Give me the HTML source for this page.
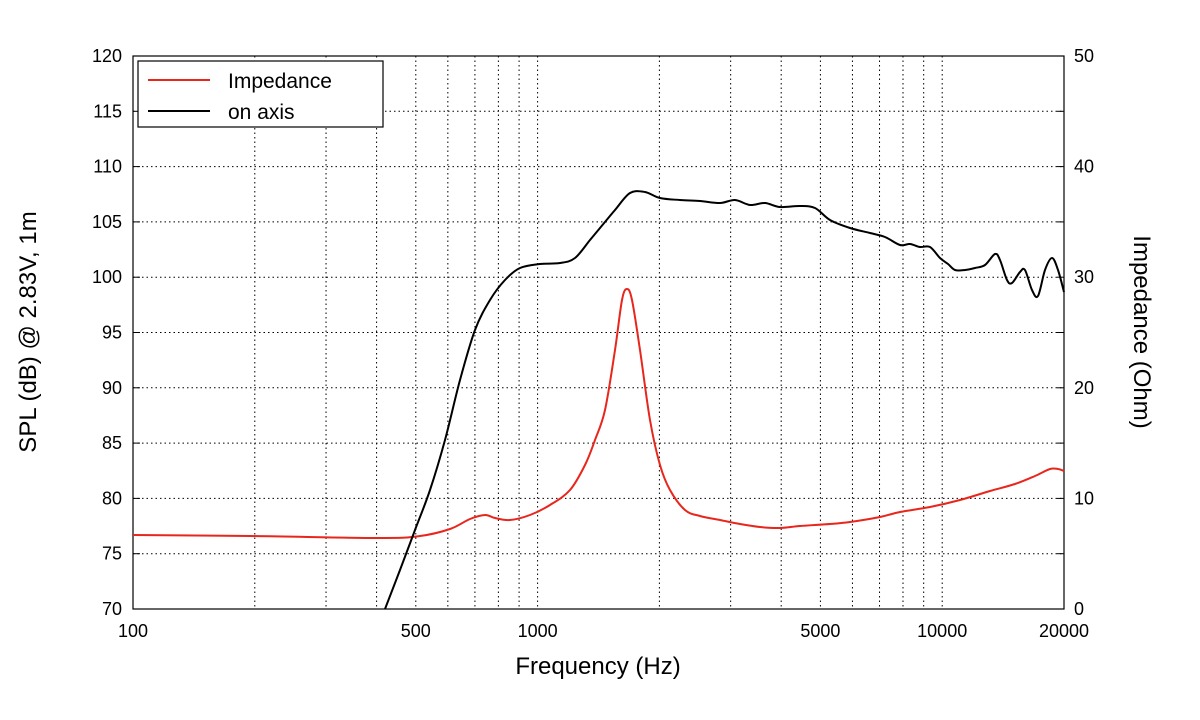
<!DOCTYPE html>
<html><head><meta charset="utf-8"><style>
body{margin:0;background:#fff;}
svg{display:block;font-family:"Liberation Sans",Arial,sans-serif;}
</style></head><body>
<svg id="s" width="1200" height="720" viewBox="0 0 1200 720" xmlns="http://www.w3.org/2000/svg">
<g id="grid"></g>
<rect x="133" y="56" width="931" height="553" fill="none" stroke="#000" stroke-width="1.2"/>
<g id="lab" font-size="18" fill="#000"></g>
<text x="598" y="674" font-size="24" text-anchor="middle">Frequency (Hz)</text>
<text transform="translate(36,332) rotate(-90)" font-size="24" text-anchor="middle">SPL (dB) @ 2.83V, 1m</text>
<text transform="translate(1134,332) rotate(90)" font-size="24" text-anchor="middle">Impedance (Ohm)</text>
<path id="red" fill="none" stroke="#e8261c" stroke-width="2"/>
<path id="blk" fill="none" stroke="#000" stroke-width="2"/>
<rect x="138" y="61" width="245" height="66" fill="#fff" stroke="#000" stroke-width="1.2"/>
<line x1="148" y1="80" x2="210" y2="80" stroke="#e8261c" stroke-width="2"/>
<line x1="148" y1="111" x2="210" y2="111" stroke="#000" stroke-width="2"/>
<text x="228" y="88" font-size="21">Impedance</text>
<text x="228" y="119" font-size="21">on axis</text>
</svg>
<script>
var ns="http://www.w3.org/2000/svg",g=document.getElementById('grid'),lab=document.getElementById('lab');
function X(f){return 133+404.6*Math.log10(f/100);}
function el(p,t,a,txt){var e=document.createElementNS(ns,t);for(var k in a)e.setAttribute(k,a[k]);if(txt)e.textContent=txt;p.appendChild(e);return e;}
var fs=[200,300,400,500,600,700,800,900,1000,2000,3000,4000,5000,6000,7000,8000,9000,10000];
fs.forEach(function(f){var x=X(f);el(g,'line',{x1:x,x2:x,y1:56,y2:609,stroke:'#000','stroke-width':1,'stroke-dasharray':'1.5,3'});});
for(var i=0;i<=10;i++){var y=56+i*55.3;el(g,'line',{x1:133,x2:1064,y1:y,y2:y,stroke:'#000','stroke-width':1,'stroke-dasharray':'1.5,3'});
el(lab,'text',{x:122,y:y+6,'text-anchor':'end'},String(120-5*i));
el(g,'line',{x1:133,x2:140,y1:y,y2:y,stroke:'#000'});el(g,'line',{x1:1057,x2:1064,y1:y,y2:y,stroke:'#000'});
if(i%2==0)el(lab,'text',{x:1074,y:y+6},String(50-i*5));}
[[100,'100'],[500,'500'],[1000,'1000'],[5000,'5000'],[10000,'10000'],[20000,'20000']].forEach(function(a){el(lab,'text',{x:X(a[0]),y:637,'text-anchor':'middle'},a[1]);});
function path(p){var d='M'+p[0][0]+','+p[0][1];for(var i=0;i<p.length-1;i++){var p0=p[Math.max(i-1,0)],p1=p[i],p2=p[i+1],p3=p[Math.min(i+2,p.length-1)];
d+=' C'+(p1[0]+(p2[0]-p0[0])/6)+','+(p1[1]+(p2[1]-p0[1])/6)+' '+(p2[0]-(p3[0]-p1[0])/6)+','+(p2[1]-(p3[1]-p1[1])/6)+' '+p2[0]+','+p2[1];}return d;}
var b=[[385,609],[400,570],[415,530],[430,490],[445,440],[460,380],[475,330],[490,300],[505,280],[520,268],[540,264],[560,263],[575,258],[590,240],[600,228],[615,210],[630,193],[645,192],[660,198],[680,200],[700,201],[720,203],[735,200],[750,205],[765,203],[780,207],[800,206],[815,208],[830,220],[850,228],[870,233],[885,237],[900,245],[910,244],[920,247],[930,247],[940,258],[948,264],[955,270],[965,270],[975,268],[985,265],[995,254],[1000,260],[1007,280],[1012,283],[1020,272],[1025,270],[1032,290],[1038,296],[1045,270],[1052,258],[1058,270],[1064,292]];
var r=[[133,535],[250,536],[380,538],[420,536],[450,529],[470,519],[485,515],[495,518],[510,520],[530,515],[550,505],[570,490],[585,465],[595,440],[605,410],[615,350],[622,300],[627,289],[632,300],[640,350],[650,420],[660,465],[670,490],[685,510],[700,516],[720,520],[740,524],[760,527],[780,528],[800,526],[830,524],[850,522],[880,517],[900,512],[930,507],[960,500],[990,491],[1015,484],[1035,476],[1050,469],[1058,469],[1064,471]];
document.getElementById('blk').setAttribute('d',path(b));
document.getElementById('red').setAttribute('d',path(r));
</script>
</body></html>
